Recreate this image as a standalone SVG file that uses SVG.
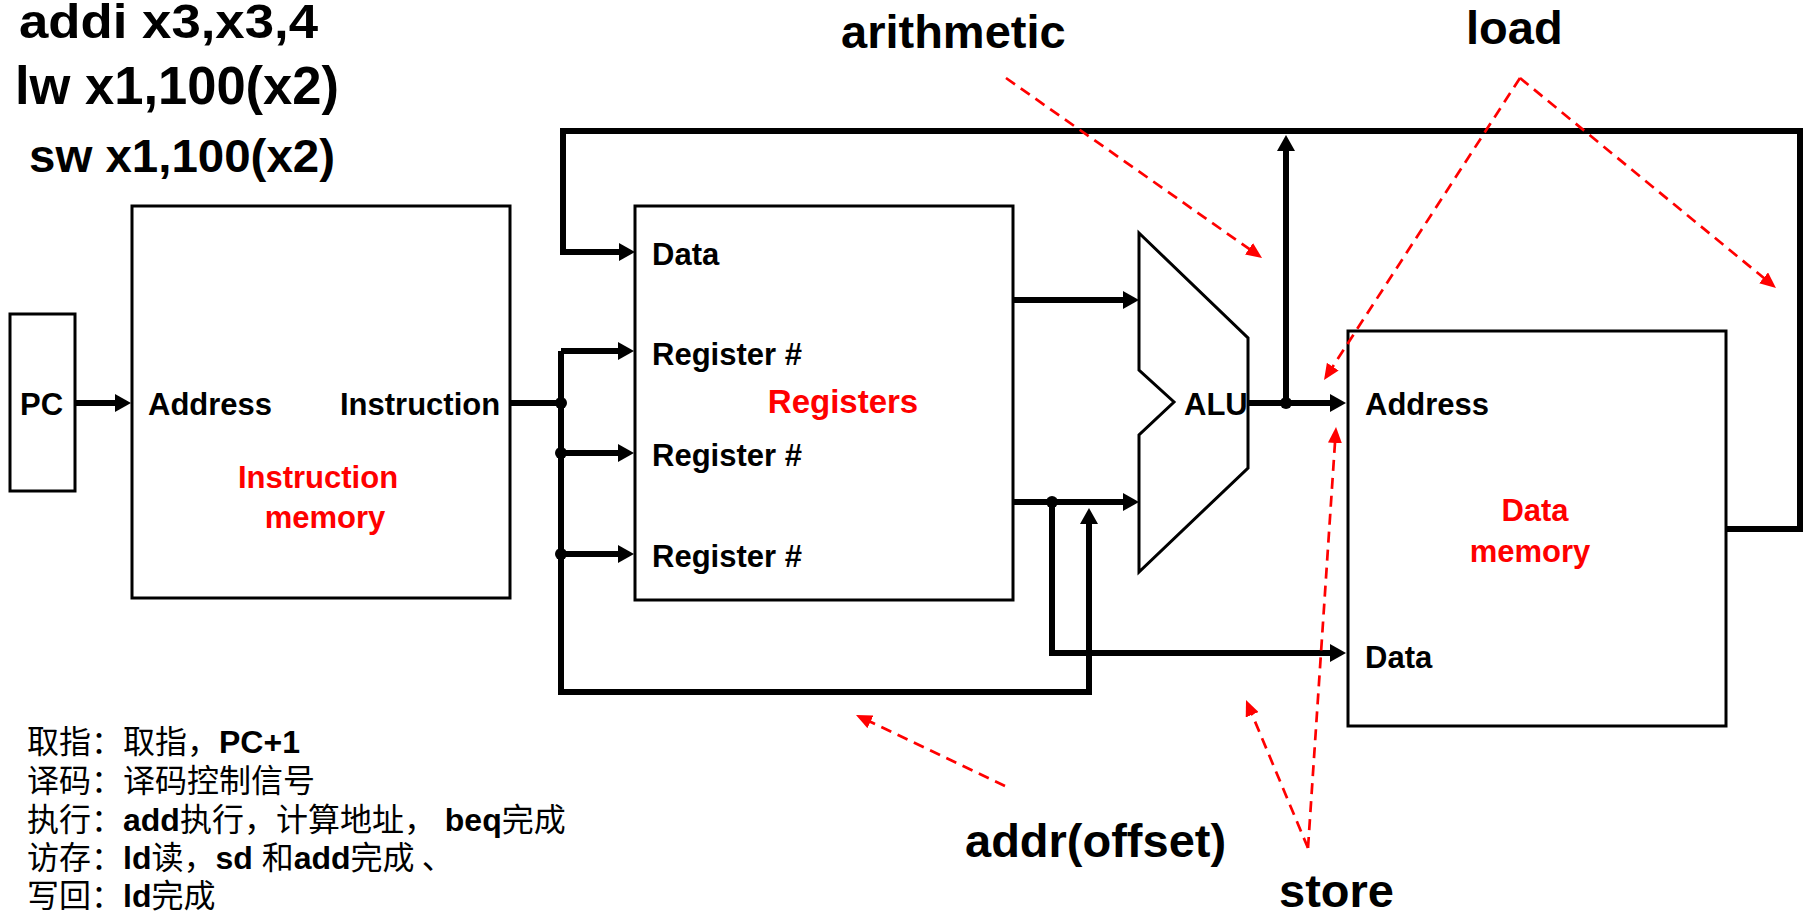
<svg xmlns="http://www.w3.org/2000/svg" width="1806" height="915" viewBox="0 0 1806 915">
<style>
.box{fill:#fff;stroke:#000;stroke-width:3}
.wire{fill:none;stroke:#000;stroke-width:6;stroke-linejoin:miter}
.arr{marker-end:url(#ah)}
.hint{fill:none;stroke:#f00;stroke-width:2.7;stroke-dasharray:11 7;marker-end:url(#rh)}
.dot{fill:#000}
text{font-family:"Liberation Sans",Arial,sans-serif;font-weight:bold;font-size:31px;fill:#000}
.red{fill:#f00}
.big{font-size:47px}
.stage{font-size:32px}
.cn{font-family:"Noto Sans CJK SC","Liberation Sans",sans-serif;font-weight:normal}
</style>
<defs>
<marker id="ah" markerUnits="userSpaceOnUse" markerWidth="16" markerHeight="18" refX="6" refY="9" orient="auto">
<path d="M0,0 L16,9 L0,18 Z" fill="#000"/>
</marker>
<marker id="rh" markerUnits="userSpaceOnUse" markerWidth="16" markerHeight="14" refX="8" refY="7" orient="auto">
<path d="M0,0 L16,7 L0,14 Z" fill="#f00"/>
</marker>
</defs>
<rect width="1806" height="915" fill="#fff"/>

<g id="instructions">
<text x="19" y="38" style="font-size:48px" textLength="299" lengthAdjust="spacingAndGlyphs">addi x3,x3,4</text>
<text x="15" y="104" style="font-size:54px" textLength="324" lengthAdjust="spacingAndGlyphs">lw x1,100(x2)</text>
<text x="29" y="172" style="font-size:47px" textLength="306" lengthAdjust="spacingAndGlyphs">sw x1,100(x2)</text>
</g>

<g id="pc">
<rect class="box" x="10" y="314" width="65" height="177"/>
<text x="20" y="415">PC</text>
</g>

<g id="instruction-memory">
<rect class="box" x="132" y="206" width="378" height="392"/>
<text x="148" y="415">Address</text>
<text x="340" y="415">Instruction</text>
<text class="red" x="318" y="488" text-anchor="middle">Instruction</text>
<text class="red" x="325" y="528" text-anchor="middle">memory</text>
</g>

<g id="registers">
<rect class="box" x="635" y="206" width="378" height="394"/>
<text x="652" y="265">Data</text>
<text x="652" y="365">Register #</text>
<text x="652" y="466">Register #</text>
<text x="652" y="567">Register #</text>
<text class="red" x="843" y="413" text-anchor="middle" style="font-size:33px">Registers</text>
</g>

<g id="alu">
<polygon class="box" points="1139,233 1248,338 1248,468 1139,572 1139,435 1174,402 1139,370"/>
<text x="1184" y="415">ALU</text>
</g>

<g id="data-memory">
<rect class="box" x="1348" y="331" width="378" height="395"/>
<text x="1365" y="415">Address</text>
<text x="1365" y="668">Data</text>
<text class="red" x="1535" y="521" text-anchor="middle">Data</text>
<text class="red" x="1530" y="562" text-anchor="middle">memory</text>
</g>

<g id="connectors">
<path class="wire arr" d="M75,403 H121"/>
<path class="wire" d="M510,403 H561"/>
<path class="wire arr" d="M561,351 H624"/>
<path class="wire" d="M561,351 V692 H1089 V518"/>
<path class="wire arr" d="M1089,692 V518"/>
<path class="wire arr" d="M561,453 H624"/>
<path class="wire arr" d="M561,554 H624"/>
<path class="wire arr" d="M1726,529 H1800 V131 H563 V252 H625"/>
<path class="wire arr" d="M1013,300 H1129"/>
<path class="wire arr" d="M1013,502 H1129"/>
<path class="wire arr" d="M1052,502 V653 H1336"/>
<path class="wire arr" d="M1248,403 H1336"/>
<path class="wire arr" d="M1286,403 V145"/>
<circle class="dot" cx="561" cy="403" r="6"/>
<circle class="dot" cx="561" cy="453" r="6"/>
<circle class="dot" cx="561" cy="554" r="6"/>
<circle class="dot" cx="1052" cy="502" r="6"/>
<circle class="dot" cx="1286" cy="403" r="6"/>
</g>

<g id="hints">
<path class="hint" d="M1006,78 L1255.5,253.4"/>
<path class="hint" d="M1520,78 L1328.4,373.3"/>
<path class="hint" d="M1520,78 L1769.8,282.9"/>
<path class="hint" d="M1005,786 L863.2,718.4"/>
<path class="hint" d="M1308,848 L1249.1,707.4"/>
<path class="hint" d="M1308,848 L1335.5,435"/>
<text class="big" x="841" y="48">arithmetic</text>
<text class="big" x="1466" y="44">load</text>
<text class="big" x="965" y="857">addr(offset)</text>
<text class="big" x="1279" y="907">store</text>
</g>

<g id="stages">
<text class="stage" x="27" y="753"><tspan class="cn">取指：取指，</tspan>PC+1</text>
<text class="stage" x="27" y="792"><tspan class="cn">译码：译码控制信号</tspan></text>
<text class="stage" x="27" y="831"><tspan class="cn">执行：</tspan>add<tspan class="cn">执行，计算地址，</tspan> beq<tspan class="cn">完成</tspan></text>
<text class="stage" x="27" y="869"><tspan class="cn">访存：</tspan>ld<tspan class="cn">读，</tspan>sd <tspan class="cn">和</tspan>add<tspan class="cn">完成 、</tspan></text>
<text class="stage" x="27" y="907"><tspan class="cn">写回：</tspan>ld<tspan class="cn">完成</tspan></text>
</g>
</svg>
